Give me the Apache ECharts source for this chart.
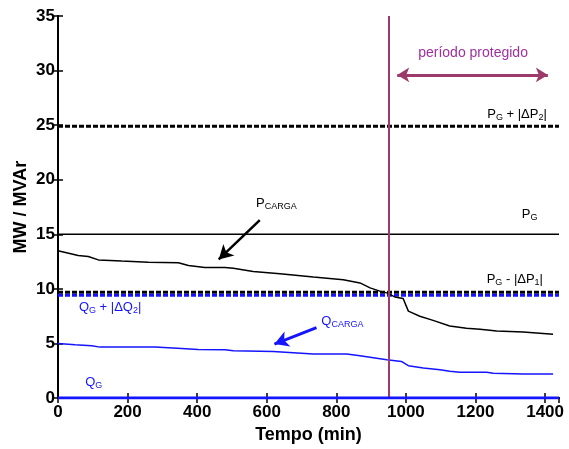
<!DOCTYPE html>
<html>
<head>
<meta charset="utf-8">
<script src="https://cdn.jsdelivr.net/npm/echarts@6/dist/echarts.min.js"></script>
<style>html,body{margin:0;padding:0;background:#fff}#c{width:569px;height:449px}</style>
</head>
<body>
<div id="c"></div>
<script>
// ---- data ----
var pCargaT = [0, 58, 87, 116, 183, 260, 346, 375, 422, 480, 504, 561, 638, 734, 820, 868, 897, 925, 945, 968, 992, 1007, 1040, 1078, 1126, 1174, 1213, 1261, 1337, 1423];
var pCargaV = [13.5, 13.06, 12.97, 12.66, 12.55, 12.45, 12.4, 12.15, 11.97, 11.97, 11.9, 11.6, 11.4, 11.1, 10.85, 10.55, 10.1, 9.8, 9.64, 9.27, 9.12, 7.97, 7.5, 7.12, 6.6, 6.4, 6.3, 6.15, 6.06, 5.85];
var qCargaT = [0, 49, 97, 121, 279, 355, 403, 480, 504, 619, 734, 830, 868, 945, 987, 1007, 1050, 1098, 1126, 1155, 1232, 1251, 1337, 1423];
var qCargaV = [5.0, 4.88, 4.79, 4.67, 4.67, 4.55, 4.45, 4.43, 4.33, 4.27, 4.03, 4.03, 3.88, 3.52, 3.36, 2.97, 2.76, 2.6, 2.45, 2.36, 2.36, 2.27, 2.2, 2.2];
var pG = 15;
var pGplus = 24.9;
var pGminus = 9.7;
var qGplus = 9.43;
var qG = 0;
var tProtect = 950;
var tEnd = 1440;
var xTicks = [0, 200, 400, 600, 800, 1000, 1200, 1400];
var yTicks = [0, 5, 10, 15, 20, 25, 30, 35];

function pairs(t, v) { return t.map(function (x, i) { return [x, v[i]]; }); }
function hline(v) { return [[0, v], [tEnd, v]]; }

var BLUE = '#1414ff';
var PURP = '#9c3a6c';
var TXTP = '#a0309f';

var richBlack = {
  a: { fontSize: 13, color: '#000', lineHeight: 14, verticalAlign: 'top', fontFamily: 'Liberation Sans' },
  b: { fontSize: 9, color: '#000', lineHeight: 10, verticalAlign: 'top', padding: [5, 0, 0, 0], fontFamily: 'Liberation Sans' }
};
var richBlue = {
  a: { fontSize: 13, color: BLUE, lineHeight: 14, verticalAlign: 'top', fontFamily: 'Liberation Sans' },
  b: { fontSize: 9, color: BLUE, lineHeight: 10, verticalAlign: 'top', padding: [5, 0, 0, 0], fontFamily: 'Liberation Sans' }
};

function note(coord, text, rich, align) {
  return {
    coord: coord, symbol: 'circle', symbolSize: 0,
    label: { show: true, position: 'inside', formatter: text, rich: rich, align: align, verticalAlign: 'middle' }
  };
}

var chart = echarts.init(document.getElementById('c'));
var baseAxisStyle = { lineStyle: { color: '#000', width: 2 } };
chart.setOption({
  animation: false,
  grid: { left: 58, right: 10, top: 16, bottom: 48 },
  xAxis: [{
    type: 'value', min: 0, max: tEnd, interval: 200,
    axisLine: baseAxisStyle,
    axisTick: { inside: true, length: 5, lineStyle: { color: '#000', width: 1.5 } },
    axisLabel: { color: '#000', fontSize: 17, fontWeight: 'bold', fontFamily: 'Liberation Sans', margin: 6, showMaxLabel: false,
      formatter: function (v) { return xTicks.indexOf(v) >= 0 ? String(v) : ''; } },
    splitLine: { show: false },
    name: 'Tempo (min)', nameLocation: 'middle', nameGap: 27,
    nameTextStyle: { color: '#000', fontSize: 18, fontWeight: 'bold', fontFamily: 'Liberation Sans' }
  }, {
    type: 'value', position: 'top', min: 0, max: tEnd, interval: 200,
    axisLine: baseAxisStyle,
    axisTick: { inside: true, length: 5, lineStyle: { color: '#000', width: 1.5 } },
    axisLabel: { show: false }, splitLine: { show: false }
  }],
  yAxis: [{
    type: 'value', min: 0, max: 35, interval: 5,
    axisLine: baseAxisStyle,
    axisTick: { inside: true, length: 5, lineStyle: { color: '#000', width: 1.5 } },
    axisLabel: { color: '#000', fontSize: 17, fontWeight: 'bold', fontFamily: 'Liberation Sans', margin: 3,
      formatter: function (v) { return yTicks.indexOf(v) >= 0 ? String(v) : ''; } },
    splitLine: { show: false },
    name: 'MW / MVAr', nameLocation: 'middle', nameGap: 28, nameMoveOverlap: false,
    nameTextStyle: { color: '#000', fontSize: 18, fontWeight: 'bold', fontFamily: 'Liberation Sans' }
  }, {
    type: 'value', position: 'right', min: 0, max: 35, interval: 5,
    axisLine: baseAxisStyle,
    axisTick: { inside: true, length: 5, lineStyle: { color: '#000', width: 1.5 } },
    axisLabel: { show: false }, splitLine: { show: false }
  }],
  series: [
    { type: 'line', data: hline(pG), symbol: 'none', lineStyle: { color: '#000', width: 1.5 }, z: 3 },
    { type: 'line', data: hline(pGplus), symbol: 'none', lineStyle: { color: '#000', width: 3, type: [5, 2] }, z: 3 },
    { type: 'line', data: hline(pGminus), symbol: 'none', lineStyle: { color: '#000', width: 3, type: [5, 2] }, z: 3 },
    { type: 'line', data: hline(qGplus), symbol: 'none', lineStyle: { color: BLUE, width: 3, type: [5, 2] }, z: 3 },
    { type: 'line', data: hline(qG), symbol: 'none', lineStyle: { color: BLUE, width: 3 }, z: 5 },
    { type: 'line', data: pairs(pCargaT, pCargaV), symbol: 'none', lineStyle: { color: '#000', width: 1.5 }, z: 4,
      markLine: {
        silent: true, symbol: ['none', 'arrow'], symbolSize: [12, 14],
        label: { show: false },
        lineStyle: { color: '#000', width: 2.5, type: 'solid' },
        data: [[{ coord: [580, 16.3] }, { coord: [462, 12.7] }]]
      },
      markPoint: {
        silent: true,
        data: [
          note([569, 17.8], '{a|P}{b|CARGA}', richBlack, 'left'),
          note([1405, 25.95], '{a|P}{b|G}{a| + |ΔP}{b|2}{a||}', richBlack, 'right'),
          note([1333, 16.8], '{a|P}{b|G}', richBlack, 'left'),
          note([1394, 10.85], '{a|P}{b|G}{a| - |ΔP}{b|1}{a||}', richBlack, 'right')
        ]
      }
    },
    { type: 'line', data: pairs(qCargaT, qCargaV), symbol: 'none', lineStyle: { color: BLUE, width: 1.5 }, z: 4,
      markLine: {
        silent: true, symbol: ['none', 'arrow'], symbolSize: [12, 14],
        label: { show: false },
        lineStyle: { color: BLUE, width: 3, type: 'solid' },
        data: [[{ coord: [743, 6.45] }, { coord: [622, 4.95] }]]
      },
      markPoint: {
        silent: true,
        data: [
          note([757, 7.0], '{a|Q}{b|CARGA}', richBlue, 'left'),
          note([60, 8.27], '{a|Q}{b|G}{a| + |ΔQ}{b|2}{a||}', richBlue, 'left'),
          note([78, 1.4], '{a|Q}{b|G}', richBlue, 'left')
        ]
      }
    },
    { type: 'line', data: [], symbol: 'none', z: 6,
      markLine: {
        silent: true, symbol: ['none', 'none'], label: { show: false },
        lineStyle: { color: PURP, width: 2, type: 'solid' },
        data: [{ xAxis: tProtect }]
      }
    },
    { type: 'line', data: [], symbol: 'none', z: 6,
      markLine: {
        silent: true, symbol: ['arrow', 'arrow'], symbolSize: [11, 12], label: { show: false },
        lineStyle: { color: PURP, width: 3, type: 'solid' },
        data: [[{ coord: [975, 29.6] }, { coord: [1408, 29.6] }]]
      },
      markPoint: {
        silent: true,
        data: [{ coord: [1193, 31.6], symbol: 'circle', symbolSize: 0,
          label: { show: true, position: 'inside', formatter: 'período protegido', color: TXTP, fontSize: 14, fontFamily: 'Liberation Sans', align: 'center', verticalAlign: 'middle' } }]
      }
    }
  ]
});
</script>
</body>
</html>
